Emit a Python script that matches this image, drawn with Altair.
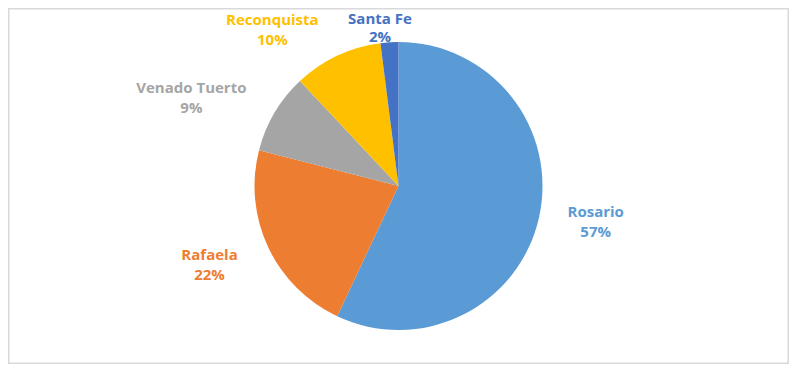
import math
import altair as alt
import pandas as pd

categories = ["Rosario", "Rafaela", "Venado Tuerto", "Reconquista", "Santa Fe"]
values = [57, 22, 9, 10, 2]
colors = ["#5B9BD5", "#ED7D31", "#A5A5A5", "#FFC000", "#4472C4"]

df = pd.DataFrame({"cat": categories, "value": values, "order": list(range(len(categories)))})

base = alt.Chart(df).transform_window(
    end="sum(value)", sort=[alt.SortField("order")], frame=[None, 0]
).transform_calculate(
    start="datum.end - datum.value",
    mid="datum.end - datum.value / 2",
    label="[datum.cat, datum.value + '%']",
)

theta_scale = alt.Scale(domain=[0, 100], range=[0, 2 * math.pi])

border = alt.Chart(df).mark_rect(
    fill="white", stroke="#D9D9D9", strokeWidth=1.5
).encode(
    x=alt.value(0.75), x2=alt.value(780.25), y=alt.value(0.75), y2=alt.value(355.25)
)

pie = base.mark_arc(radius=144).encode(
    theta=alt.Theta("start:Q", scale=theta_scale),
    theta2="end:Q",
    color=alt.Color("cat:N", scale=alt.Scale(domain=categories, range=colors), legend=None),
)

# label offsets and line heights (styling only)
offsets = {
    "Rosario": (2, -18, 20),
    "Rafaela": (-8, -16, 20),
    "Venado Tuerto": (-35, 4, 20),
    "Reconquista": (-41, 15, 20),
    "Santa Fe": (-6, 33, 18),
}

layers = [border, pie]
for cat, col in zip(categories, colors):
    dx, dy, lh = offsets[cat]
    layers.append(
        base.transform_filter(alt.datum.cat == cat).mark_text(
            radius=200, dx=dx, dy=dy, font="Open Sans", fontSize=15, fontWeight="bold",
            lineHeight=lh, align="center", baseline="middle", color=col,
        ).encode(
            theta=alt.Theta("mid:Q", scale=theta_scale),
            text="label:N",
        )
    )

chart = alt.layer(*layers).properties(
    width=781, height=356, padding=0,
    autosize=alt.AutoSizeParams(type="fit", contains="padding"),
    background="white",
).configure_view(stroke=None)

chart.save("out.html", embed_options={"renderer": "svg", "actions": False})
